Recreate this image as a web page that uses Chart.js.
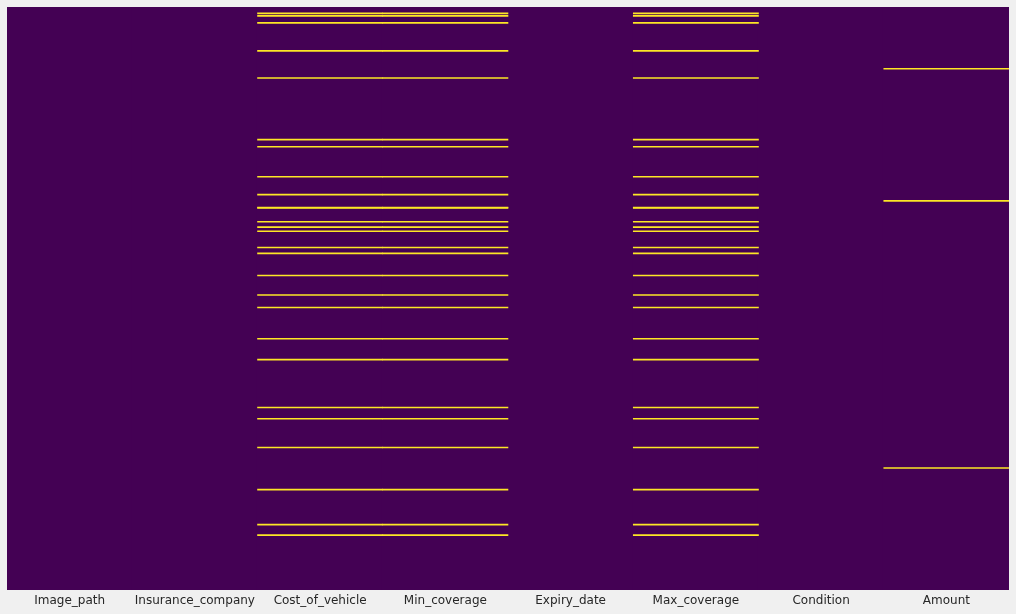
<!DOCTYPE html>
<html>
<head>
<meta charset="utf-8">
<script src="https://cdn.jsdelivr.net/npm/chart.js@4.4.0/dist/chart.umd.min.js"></script>
<style>
  html, body { margin: 0; padding: 0; background: #f0f0f0; }
  #chart { display: block; }
</style>
</head>
<body>
<canvas id="chart" width="1016" height="614"></canvas>
<script>
// columns of the dataset, row count and the rows where each column is missing
const columns = ['Image_path', 'Insurance_company', 'Cost_of_vehicle', 'Min_coverage',
  'Expiry_date', 'Max_coverage', 'Condition', 'Amount'];
const nRows = 1399;
const costMissing = [14, 20, 37, 104, 169, 317, 334, 406, 449, 480, 481, 514, 527, 537,
  576, 590, 643, 690, 720, 795, 845, 960, 987, 1056, 1157, 1241, 1266];
const minCoverageMissing = costMissing;
const maxCoverageMissing = costMissing;
const amountMissing = [147, 464, 1105];

const missingByColumn = {
  Cost_of_vehicle: costMissing,
  Min_coverage: minCoverageMissing,
  Max_coverage: maxCoverageMissing,
  Amount: amountMissing
};

const lineRows = 2.4; // drawn thickness of one missing row, about one pixel

const missingPoints = [];
Object.keys(missingByColumn).forEach(function (col) {
  missingByColumn[col].forEach(function (r) {
    missingPoints.push({ x: col, y: [r, r + lineRows] });
  });
});

new Chart(document.getElementById('chart'), {
  type: 'bar',
  data: {
    labels: columns,
    datasets: [
      {
        data: columns.map(function (c) { return { x: c, y: [0, nRows] }; }),
        backgroundColor: '#440154',
        borderWidth: 0,
        inflateAmount: 1,
        barPercentage: 1,
        categoryPercentage: 1,
        grouped: false,
        order: 2
      },
      {
        data: missingPoints,
        backgroundColor: '#fde725',
        borderWidth: 0,
        inflateAmount: 0.3,
        barPercentage: 1,
        categoryPercentage: 1,
        grouped: false,
        order: 1
      }
    ]
  },
  options: {
    responsive: false,
    animation: false,
    layout: { padding: { left: 7, right: 7, top: 7, bottom: 1.6 } },
    plugins: {
      legend: { display: false },
      tooltip: { enabled: false }
    },
    scales: {
      x: {
        grid: { display: false, drawTicks: false },
        border: { display: false },
        ticks: {
          padding: 4,
          color: '#262626',
          maxRotation: 0,
          autoSkip: false,
          font: { family: 'DejaVu Sans', size: 12 }
        }
      },
      y: {
        display: false,
        reverse: true,
        min: 0,
        max: nRows
      }
    }
  }
});
</script>
</body>
</html>
